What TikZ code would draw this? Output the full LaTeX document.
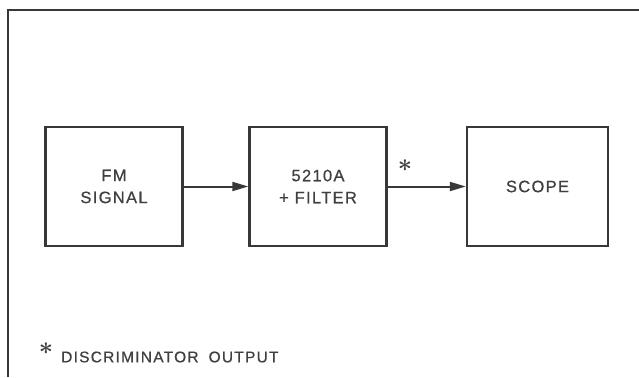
\documentclass[tikz,border=0pt]{standalone}
\usepackage{fontspec}
\newfontfamily\lettering[LetterSpace=8,FakeBold=0.6]{Liberation Sans}
\usetikzlibrary{arrows.meta,positioning}

\definecolor{inkline}{HTML}{383838}
\definecolor{inktext}{HTML}{404040}

\tikzset{
  blockbox/.style={draw=inkline,line width=2.4pt,minimum width=137pt,minimum height=119pt,
    align=center,text=inktext,font=\lettering\fontsize{16.5}{22}\selectfont},
  sig/.style={draw=inkline,line width=2pt,-{Triangle[length=16pt,width=9pt]}},
  starmark/.style={text=inktext,inner sep=0pt,font=\boldmath\fontsize{26}{26}\selectfont}
}

\begin{document}
\begin{tikzpicture}[x=1pt,y=-1pt]
        % page and frame
        \useasboundingbox[fill=white] (0,0) rectangle (639,377);
        \draw[inkline,line width=2.2pt] (8,377) |- (639,10);
        % blocks
        \node[blockbox] (fm) at (114,186.5) {FM\\SIGNAL};
        \node[blockbox] (filt) at (318,186.5) {5210A\\+ FILTER};
        \node[blockbox,minimum width=141pt] (scope) at (537.5,186.5) {SCOPE};
        \draw[sig] (fm.east) -- (filt.west);
        \draw[sig] (filt.east) -- (scope.west);
        \node[starmark] (star) at (405,166) {$\ast$};
        % footnote
        \node[starmark] (fstar) at (46,349) {$\ast$};
        \node[anchor=west,text=inktext,inner sep=0pt,font=\lettering\fontsize{15.5}{18}\selectfont]
          (note) at (61,357) {DISCRIMINATOR\hspace{10pt}OUTPUT};
      \end{tikzpicture}
\end{document}
